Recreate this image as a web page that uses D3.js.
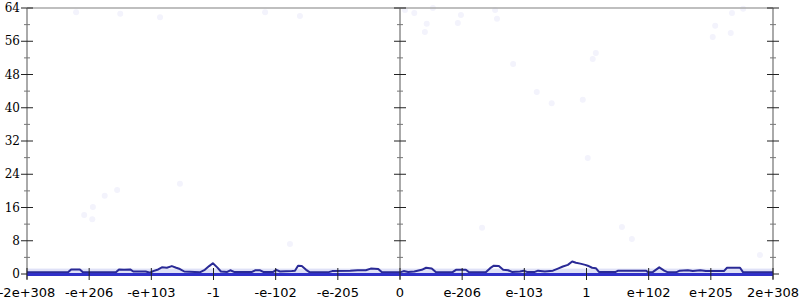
<!DOCTYPE html>
<html>
<head>
<meta charset="utf-8">
<script src="https://cdn.jsdelivr.net/npm/d3@7"></script>
<style>
  body { margin: 0; background: #fff; }
  .xlab { font-family: "DejaVu Sans", sans-serif; font-size: 13px; fill: #000; }
  .ylab { font-family: "DejaVu Serif", serif; font-size: 12px; fill: #000; }
</style>
</head>
<body>
<svg id="chart"></svg>
<script>
// x runs over float bit-space, one unit per labelled tick
var xTickValues = [-6, -5, -4, -3, -2, -1, 0, 1, 2, 3, 4, 5, 6];
var xTickLabels = ["-2e+308", "-e+206", "-e+103", "-1", "-e-102", "-e-205", "0",
                   "e-206", "e-103", "1", "e+102", "e+205", "2e+308"];
var yMajorTicks = [0, 8, 16, 24, 32, 40, 48, 56, 64];
var yMinorTicks = [4, 12, 20, 28, 36, 44, 52, 60];

// density line [x, count]
var lineX = [-6.00, -5.34, -5.29, -5.15, -5.10, -4.57, -4.52, -4.44, -4.34, -4.29, -4.09, -4.02,
  -3.97, -3.89, -3.83, -3.75, -3.67, -3.60, -3.54, -3.47, -3.22, -3.14, -3.07, -3.01, -2.94, -2.88,
  -2.78, -2.73, -2.67, -2.38, -2.33, -2.25, -2.20, -2.04, -1.99, -1.93, -1.74, -1.69, -1.64, -1.58,
  -1.51, -1.45, -1.16, -1.09, -0.80, -0.68, -0.55, -0.47, -0.35, -0.29, 0.00, 0.06, 0.13, 0.23,
  0.35, 0.42, 0.51, 0.58, 0.84, 0.90, 1.06, 1.11, 1.38, 1.45, 1.51, 1.59, 1.66, 1.74, 1.80, 1.93,
  1.99, 2.04, 2.17, 2.22, 2.33, 2.46, 2.54, 2.62, 2.70, 2.77, 2.83, 2.90, 2.98, 3.02, 3.09, 3.15,
  3.20, 3.47, 3.51, 3.96, 3.99, 4.07, 4.17, 4.25, 4.31, 4.44, 4.50, 4.63, 4.71, 4.83, 4.92, 5.21,
  5.26, 5.47, 5.52, 6.00];
var lineY = [0.4, 0.4, 1.1, 1.1, 0.4, 0.4, 1.1, 1.0, 1.1, 0.6, 0.6, 0.3,
  0.7, 1.1, 1.6, 1.5, 1.9, 1.5, 1.2, 0.6, 0.4, 1.0, 1.9, 2.6, 1.6, 0.6,
  0.5, 0.9, 0.5, 0.5, 0.9, 0.9, 0.5, 0.5, 1.0, 0.6, 0.7, 0.8, 2.0, 1.9,
  1.0, 0.4, 0.4, 0.7, 0.8, 0.9, 0.9, 1.3, 1.2, 0.4, 0.4, 0.7, 0.5, 0.6,
  1.0, 1.5, 1.3, 0.4, 0.4, 1.0, 1.0, 0.4, 0.4, 1.4, 2.0, 1.9, 1.0, 0.9, 0.5, 0.6,
  0.8, 0.5, 0.5, 0.8, 0.6, 0.8, 1.3, 1.8, 2.2, 3.0, 2.7, 2.5, 2.2, 2.0, 1.5, 1.4,
  0.5, 0.5, 0.8, 0.8, 0.4, 0.5, 1.6, 0.8, 0.4, 0.4, 0.8, 0.9, 0.7, 0.9, 0.7, 0.7,
  1.5, 1.5, 0.4, 0.4];

// faint sample points
var dotX = [0.08, 0.23, 0.53, 0.98, 0.43, 0.93, 0.40, 1.53, 1.56, 5.34, 5.52, 5.07, 5.32, 5.03,
  -5.21, -5.08, -4.95, -4.94, -4.75, -4.55, -3.54, 3.15, 3.10, 1.82, 2.20, 2.44, 2.94, 3.02,
  1.32, 3.57, 3.73, -4.50, -3.86, -2.17, -1.61, -1.77, 5.79];
var dotY = [63.5, 62.8, 64.0, 62.3, 60.2, 60.4, 58.2, 63.5, 61.4, 62.8, 63.8, 59.7, 58.0, 57.0,
  63.0, 14.2, 13.2, 16.1, 18.8, 20.2, 21.7, 53.2, 51.7, 50.5, 43.8, 41.1, 41.9, 27.9,
  11.1, 11.3, 8.4, 62.6, 61.8, 63.0, 62.1, 7.2, 4.6];

var bandHigh = 1.3;

var margin = ({ top: 8, right: 27, bottom: 26, left: 27 });
var width = 800, height = 300;

var svg = d3.select("#chart")
  .attr("width", width)
  .attr("height", height);

var x = d3.scaleLinear()
  .domain([-6, 6])
  .range([margin.left, width - margin.right]);

var y = d3.scaleLinear()
  .domain([0, 64])
  .range([height - margin.bottom, margin.top]);

// light band of dense samples along the floor
svg.append("rect")
  .attr("x", x(-6))
  .attr("y", y(bandHigh))
  .attr("width", x(6) - x(-6))
  .attr("height", y(0) - y(bandHigh))
  .attr("fill", "#dfe1f7");

svg.append("g").selectAll("circle")
  .data(dotX.map((d, i) => [d, dotY[i]]))
  .join("circle")
  .attr("cx", d => x(d[0]))
  .attr("cy", d => y(d[1]))
  .attr("r", 3)
  .attr("fill", "#f3f3fc");

// top border
svg.append("line")
  .attr("x1", x(-6)).attr("x2", x(6))
  .attr("y1", y(64)).attr("y2", y(64))
  .attr("stroke", "#aaa").attr("stroke-width", 1.5);

// vertical axes: left, middle, right
[-6, 0, 6].forEach(function(v) {
  var g = svg.append("g").attr("transform", `translate(${x(v)},0)`);
  g.append("line")
    .attr("y1", y(64)).attr("y2", y(0) + 5)
    .attr("stroke", "#aaa").attr("stroke-width", 2);
  g.selectAll(".maj").data(yMajorTicks).join("line")
    .attr("x1", -6).attr("x2", 6)
    .attr("y1", d => y(d)).attr("y2", d => y(d))
    .attr("stroke", "#222").attr("stroke-width", 1);
  g.selectAll(".min").data(yMinorTicks).join("line")
    .attr("x1", -3).attr("x2", 3)
    .attr("y1", d => y(d)).attr("y2", d => y(d))
    .attr("stroke", "#777").attr("stroke-width", 1);
});

svg.append("g").selectAll("text")
  .data(yMajorTicks)
  .join("text")
  .classed("ylab", true)
  .attr("x", x(-6) - 7)
  .attr("y", d => y(d))
  .attr("dy", "0.35em")
  .attr("text-anchor", "end")
  .text(d => d);

// series line
var line = d3.line()
  .x(d => x(d[0]))
  .y(d => y(d[1]));

svg.append("path")
  .datum(lineX.map((d, i) => [d, lineY[i]]))
  .attr("d", line)
  .attr("fill", "none")
  .attr("stroke", "#2a2a96")
  .attr("stroke-width", 2)
  .attr("stroke-linejoin", "round");

// floor
svg.append("line")
  .attr("x1", x(-6)).attr("x2", x(6))
  .attr("y1", y(0) + 0.5).attr("y2", y(0) + 0.5)
  .attr("stroke", "#3030c8").attr("stroke-width", 3);

// x ticks and labels
var xg = svg.append("g");
xg.selectAll("line").data(xTickValues).join("line")
  .attr("x1", d => x(d)).attr("x2", d => x(d))
  .attr("y1", y(0) - 6).attr("y2", y(0) + 6)
  .attr("stroke", "#222").attr("stroke-width", 1);
xg.selectAll("text").data(xTickValues).join("text")
  .classed("xlab", true)
  .attr("x", d => x(d))
  .attr("y", 297)
  .attr("text-anchor", "middle")
  .text((d, i) => xTickLabels[i]);
</script>
</body>
</html>
